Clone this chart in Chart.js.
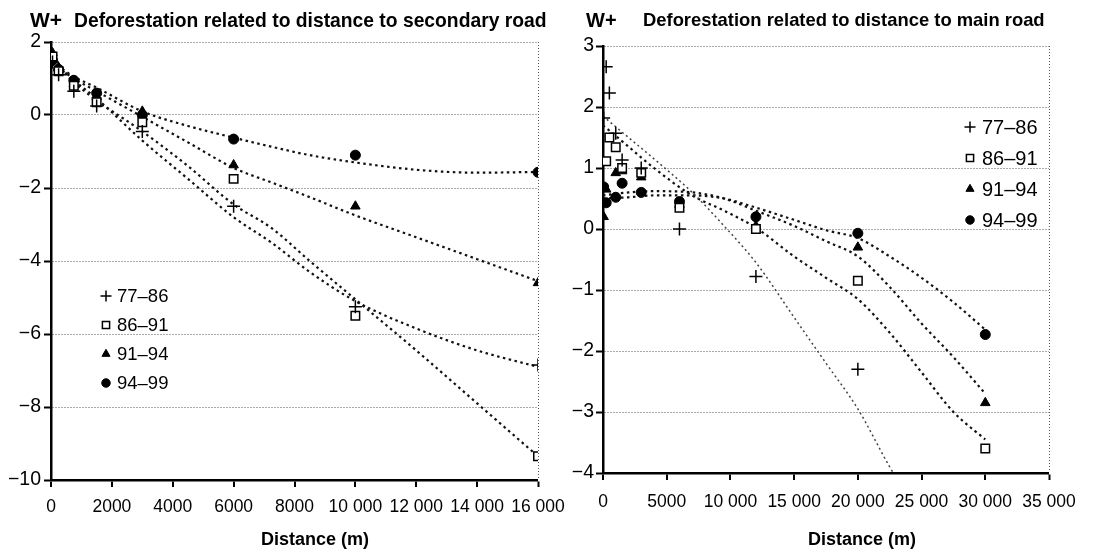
<!DOCTYPE html>
<html>
<head>
<meta charset="utf-8">
<script src="https://cdn.jsdelivr.net/npm/chart.js@4.4.1/dist/chart.umd.min.js"></script>
<style>
body{margin:0;width:1106px;height:552px;background:#fff;overflow:hidden;position:relative;font-family:"Liberation Sans",Arial,sans-serif;}
.box{position:absolute;top:0;height:552px;}
.t{position:absolute;font-weight:bold;white-space:nowrap;line-height:1;color:#000;}
.ax{position:absolute;font-weight:bold;font-size:18px;white-space:nowrap;line-height:1;}
</style>
</head>
<body>
<div class="box" style="left:0;width:590px"><canvas id="secondary"></canvas></div>
<div class="box" style="left:553px;width:553px"><canvas id="mainroad"></canvas></div>

<div class="t" style="left:30px;top:9px;font-size:21px">W+</div>
<div class="t" style="left:74px;top:11px;font-size:19.3px">Deforestation related to distance to secondary road</div>
<div class="t" style="left:586px;top:10px;font-size:20px">W+</div>
<div class="t" style="left:643px;top:11px;font-size:18.4px">Deforestation related to distance to main road</div>
<div class="ax" style="left:261px;top:530px">Distance (m)</div>
<div class="ax" style="left:808px;top:530px">Distance (m)</div>

<script>
const periods = ['77–86', '86–91', '91–94', '94–99'];

// secondary road: observed W+ values
const secDist = [50, 250, 750, 1500, 3000, 6000, 10000, 16000];
const sec7786 = [1.45, 1.1, 0.65, 0.25, -0.45, -2.5, -5.25, -6.85];
const sec8691 = [1.6, 1.2, 0.8, 0.35, -0.2, -1.75, -5.5, -9.35];
const sec9194 = [1.7, 1.3, 0.85, 0.5, 0.1, -1.37, -2.5, -4.6];
const sec9499 = [1.5, 1.25, 0.95, 0.6, 0.0, -0.66, -1.1, -1.57];

// secondary road: trend curves
const secTrendDist = [50, 750, 1500, 3000, 4500, 6000, 7250, 8500, 10000, 12000, 14000, 16000];
const secTrend7786 = [1.5, 0.95, 0.45, -0.7, -1.75, -2.8, -3.5, -4.3, -5.1, -5.85, -6.45, -6.9];
const secTrend8691 = [1.5, 0.9, 0.4, -0.45, -1.4, -2.45, -3.1, -4.0, -5.05, -6.45, -7.9, -9.35];
const secTrend9194 = [1.4, 1.0, 0.65, -0.05, -0.75, -1.45, -1.85, -2.25, -2.75, -3.35, -3.95, -4.55];
const secTrend9499 = [1.45, 1.05, 0.75, 0.1, -0.3, -0.62, -0.87, -1.1, -1.3, -1.5, -1.58, -1.56];

const secXTicks = [0, 2000, 4000, 6000, 8000, 10000, 12000, 14000, 16000];
const secYTicks = [-10, -8, -6, -4, -2, 0, 2];

// main road: observed W+ values
const mainDist = [50, 250, 500, 1000, 1500, 3000, 6000, 12000, 20000, 30000];
const main7786 = [1.82, 2.66, 2.23, 1.57, 1.13, 1.0, 0.0, -0.78, -2.3, null];
const main8691 = [null, 1.11, 1.5, 1.34, 1.0, 0.92, 0.35, 0.0, -0.85, -3.6];
const main9194 = [0.2, 0.65, null, 0.92, 0.95, 0.85, 0.4, 0.05, -0.3, -2.85];
const main9499 = [0.69, 0.43, null, 0.52, 0.75, 0.6, 0.45, 0.2, -0.07, -1.73];

// main road: trend curves
const mainTrendDist = [0, 2000, 4000, 7000, 9500, 12000, 15000, 17500, 20000, 22500, 25000, 27500, 30000];
const mainTrend7786 = [1.85, 1.5, 1.15, 0.6, 0.05, -0.55, -1.45, -2.2, -2.95, -3.9, -4.75, null, null];
const mainTrend8691 = [1.7, 1.35, 1.0, 0.55, 0.3, 0.02, -0.45, -0.8, -1.15, -1.7, -2.35, -3.0, -3.45];
const mainTrend9194 = [0.55, 0.6, 0.62, 0.6, 0.5, 0.3, 0.05, -0.2, -0.45, -0.95, -1.55, -2.1, -2.7];
const mainTrend9499 = [0.5, 0.52, 0.55, 0.55, 0.5, 0.35, 0.15, -0.02, -0.15, -0.45, -0.8, -1.2, -1.65];

const mainXTicks = [0, 5000, 10000, 15000, 20000, 25000, 30000, 35000];
const mainYTicks = [-4, -3, -2, -1, 0, 1, 2, 3];

const tickFamily = "'Liberation Sans', Arial, sans-serif";

const markers = [
    {pointStyle: 'cross', pointRadius: 6.5, pointBorderWidth: 1.5, pointBackgroundColor: '#000'},
    {pointStyle: 'rect', pointRadius: 6, pointBorderWidth: 1.5, pointBackgroundColor: '#fff'},
    {pointStyle: 'triangle', pointRadius: 5.5, pointBorderWidth: 1, pointBackgroundColor: '#000'},
    {pointStyle: 'circle', pointRadius: 5, pointBorderWidth: 1, pointBackgroundColor: '#000'}
];

function pts(xs, ys) {
    return xs.map((x, i) => ({x: x, y: ys[i]})).filter(p => p.y !== null);
}

function fmtDist(v) {
    if (v >= 10000) return Math.floor(v / 1000) + ' ' + String(v % 1000).padStart(3, '0');
    return String(v);
}
function fmtW(v) {
    return v < 0 ? '\u2212' + Math.abs(v) : String(v);
}

function buildDatasets(dist, series, trendDist, trends, thinFirst) {
    const out = [];
    series.forEach((s, i) => {
        out.push(Object.assign({
            label: periods[i],
            data: pts(dist, s),
            showLine: false,
            pointBorderColor: '#000',
            pointHoverRadius: markers[i].pointRadius,
            order: 1
        }, markers[i]));
    });
    trends.forEach((t, i) => {
        const thin = thinFirst && i === 0;
        out.push({
            label: 'trend ' + periods[i],
            isTrend: true,
            data: pts(trendDist, t),
            showLine: true,
            borderColor: thin ? '#444' : '#111',
            borderWidth: thin ? 1.5 : 2.2,
            borderDash: thin ? [2, 3] : [2.5, 3.5],
            pointRadius: 0,
            cubicInterpolationMode: 'monotone',
            fill: false,
            order: 2
        });
    });
    return out;
}

// legend drawn inside the plot at a fixed spot, like the original
const legendAt = {
    id: 'legendAt',
    afterDraw(chart, args, opts) {
        const ctx = chart.ctx;
        const sets = chart.data.datasets.filter(d => !d.isTrend);
        ctx.save();
        ctx.font = opts.font;
        ctx.textBaseline = 'middle';
        ctx.textAlign = 'left';
        sets.forEach((ds, i) => {
            const y = opts.y + i * opts.gap;
            ctx.fillStyle = ds.pointBackgroundColor;
            ctx.strokeStyle = '#000';
            ctx.lineWidth = ds.pointBorderWidth;
            Chart.helpers.drawPoint(ctx, {
                pointStyle: ds.pointStyle,
                radius: ds.pointRadius * 0.85,
                rotation: 0,
                borderWidth: ds.pointBorderWidth
            }, opts.x, y);
            ctx.fillStyle = '#000';
            ctx.fillText(ds.label, opts.textX, y + 1);
        });
        ctx.restore();
    }
};

function makeChart(id, cfg) {
    const lastX = cfg.xTicks.length - 1;
    return new Chart(document.getElementById(id), {
        type: 'scatter',
        data: {datasets: buildDatasets(cfg.dist, cfg.series, cfg.trendDist, cfg.trends, cfg.thinFirst)},
        plugins: [legendAt],
        options: {
            responsive: true,
            maintainAspectRatio: false,
            animation: false,
            layout: {padding: cfg.padding},
            plugins: {
                legend: {display: false},
                tooltip: {enabled: false},
                legendAt: cfg.legend
            },
            scales: {
                x: {
                    type: 'linear',
                    min: cfg.xTicks[0],
                    max: cfg.xTicks[lastX],
                    afterBuildTicks: s => { s.ticks = cfg.xTicks.map(v => ({value: v})); },
                    afterFit: s => { s.height = cfg.xHeight; },
                    grid: {
                        color: '#555',
                        lineWidth: c => (c.index === lastX ? 1 : 0),
                        tickColor: '#000',
                        tickWidth: 2,
                        tickLength: 7
                    },
                    border: {display: true, color: '#000', width: 2.5, dash: [1, 2]},
                    ticks: {
                        color: '#000',
                        padding: cfg.xPad,
                        maxRotation: 0,
                        autoSkip: false,
                        font: {family: tickFamily, size: 17.5},
                        callback: v => fmtDist(v)
                    }
                },
                y: {
                    type: 'linear',
                    min: cfg.yTicks[0],
                    max: cfg.yTicks[cfg.yTicks.length - 1],
                    afterBuildTicks: s => { s.ticks = cfg.yTicks.map(v => ({value: v})); },
                    afterFit: s => { s.width = cfg.yWidth; },
                    grid: {
                        color: '#555',
                        lineWidth: 1,
                        tickColor: '#000',
                        tickWidth: 2,
                        tickLength: 7
                    },
                    border: {display: true, color: '#000', width: 2.5, dash: [1, 2]},
                    ticks: {
                        color: '#000',
                        padding: cfg.yPad,
                        font: {family: tickFamily, size: 19.5},
                        callback: v => fmtW(v)
                    }
                }
            }
        }
    });
}

makeChart('secondary', {
    dist: secDist,
    series: [sec7786, sec8691, sec9194, sec9499],
    trendDist: secTrendDist,
    trends: [secTrend7786, secTrend8691, secTrend9194, secTrend9499],
    thinFirst: false,
    xTicks: secXTicks,
    yTicks: secYTicks,
    padding: {top: 42, right: 52, bottom: 0, left: 0},
    yWidth: 51,
    xHeight: 72,
    xPad: 10,
    yPad: 3,
    legend: {x: 106, textX: 117, y: 296, gap: 29, font: "18.5px " + tickFamily}
});

makeChart('mainroad', {
    dist: mainDist,
    series: [main7786, main8691, main9194, main9499],
    trendDist: mainTrendDist,
    trends: [mainTrend7786, mainTrend8691, mainTrend9194, mainTrend9499],
    thinFirst: true,
    xTicks: mainXTicks,
    yTicks: mainYTicks,
    padding: {top: 46, right: 57, bottom: 0, left: 0},
    yWidth: 50,
    xHeight: 79,
    xPad: 12,
    yPad: 2,
    legend: {x: 417, textX: 429, y: 127, gap: 31, font: "20px " + tickFamily}
});
</script>
</body>
</html>
